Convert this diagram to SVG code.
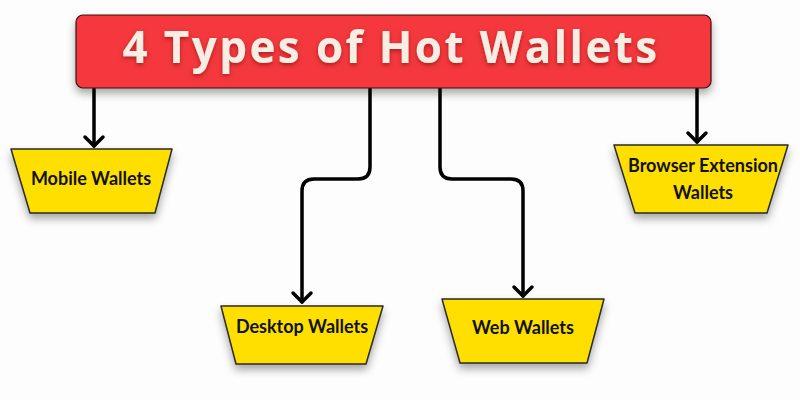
<svg xmlns="http://www.w3.org/2000/svg" width="800" height="400" viewBox="0 0 800 400">
<defs>
<filter id="sh" x="-20%" y="-20%" width="140%" height="160%">
<feDropShadow dx="0" dy="5" stdDeviation="4" flood-color="#000" flood-opacity="0.35"/>
</filter>
<filter id="tsh" x="-10%" y="-20%" width="120%" height="150%">
<feDropShadow dx="0" dy="2" stdDeviation="2" flood-color="#600" flood-opacity="0.5"/>
</filter>
<marker id="arr" markerUnits="userSpaceOnUse" markerWidth="24" markerHeight="24" refX="12" refY="12" orient="auto" viewBox="0 0 24 24">
<path d="M3,3 L12,12 L3,21" fill="none" stroke="#000" stroke-width="3.5" stroke-linecap="round" stroke-linejoin="round"/>
</marker>
<style>
.node{fill:#ffdf00;stroke:#2a2a2a;stroke-width:1.5;stroke-linejoin:round;filter:url(#sh)}
.lbl{font-family:Lato,"Liberation Sans",sans-serif;font-weight:700;font-size:18px;fill:#111;text-anchor:middle}
.con{fill:none;stroke:#000;stroke-width:3.5;stroke-linecap:round}
</style>
</defs>
<rect width="800" height="400" fill="#fdfdfd"/>
<g id="connectors">
<path class="con" d="M94,89 V146" marker-end="url(#arr)"/>
<path class="con" d="M370,89 V167 Q370,179 358,179 H314 Q302,179 302,191 V302" marker-end="url(#arr)"/>
<path class="con" d="M440,89 V167 Q440,179 452,179 H511 Q523,179 523,191 V296" marker-end="url(#arr)"/>
<path class="con" d="M697,89 V142" marker-end="url(#arr)"/>
</g>
<g id="title">
<rect x="76" y="15" width="635" height="73" rx="7" fill="#f4383e" stroke="#3a1010" stroke-width="1.2" filter="url(#sh)"/>
<text x="391" y="63" font-family="Open Sans, Liberation Sans, sans-serif" font-weight="700" font-size="44" letter-spacing="2.4" fill="#f7ede2" text-anchor="middle" filter="url(#tsh)">4 Types of Hot Wallets</text>
</g>
<g id="mobile">
<polygon class="node" points="11,149 172,149 155,213 30,213"/>
<text class="lbl" x="91" y="185">Mobile Wallets</text>
</g>
<g id="desktop">
<polygon class="node" points="221,306 383,306 366,364 236,364"/>
<text class="lbl" x="302" y="333">Desktop Wallets</text>
</g>
<g id="web">
<polygon class="node" points="442,299 604,299 587,363 460,363"/>
<text class="lbl" x="523" y="334">Web Wallets</text>
</g>
<g id="browser">
<polygon class="node" points="614,145 788,145 767,213 635,213"/>
<text class="lbl" x="703" y="172">Browser Extension</text>
<text class="lbl" x="703" y="199">Wallets</text>
</g>
</svg>
